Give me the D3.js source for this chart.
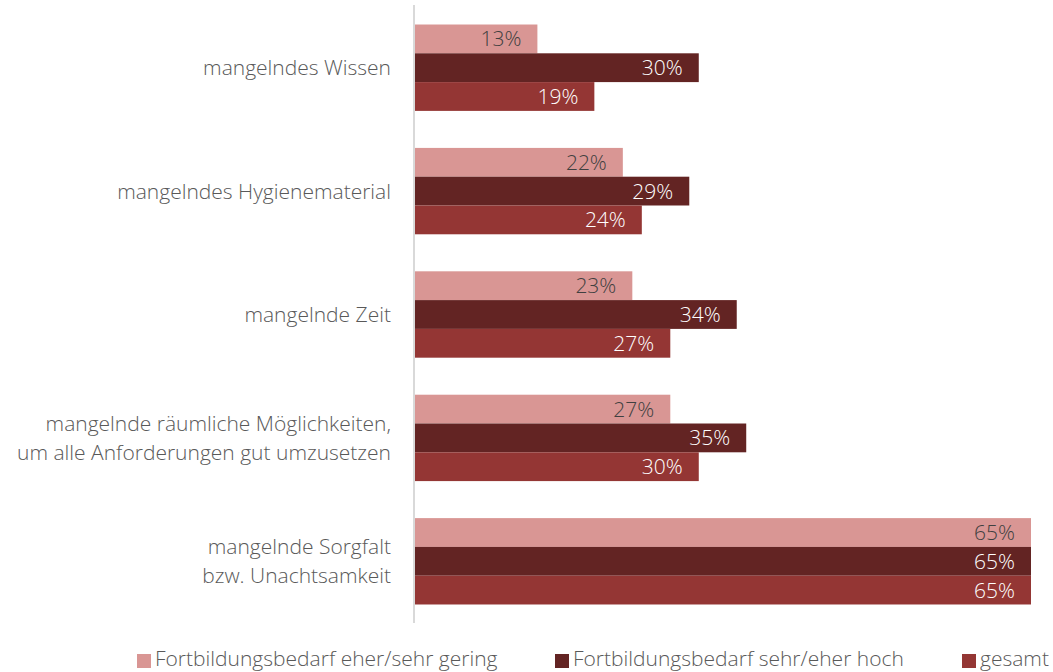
<!DOCTYPE html>
<html>
<head>
<meta charset="utf-8">
<script src="https://cdn.jsdelivr.net/npm/d3@7"></script>
<style>
  body { margin: 0; background: #fff; }
  svg text { font-family: "Open Sans", Lato, sans-serif; font-weight: 300; }
</style>
</head>
<body>
<div id="chart"></div>
<script>
// Data
const categories = [
  ["mangelndes Wissen"],
  ["mangelndes Hygienematerial"],
  ["mangelnde Zeit"],
  ["mangelnde räumliche Möglichkeiten,", "um alle Anforderungen gut umzusetzen"],
  ["mangelnde Sorgfalt", "bzw. Unachtsamkeit"]
];
const seriesNames = [
  "Fortbildungsbedarf eher/sehr gering",
  "Fortbildungsbedarf sehr/eher hoch",
  "gesamt"
];
const gering = [13, 22, 23, 27, 65];
const hoch   = [30, 29, 34, 35, 65];
const gesamt = [19, 24, 27, 30, 65];

const colors     = ["#d99694", "#632423", "#943634"];
const textColors = ["#404040", "#ffffff", "#ffffff"];

const W = 1053, H = 672;
const x0 = 414, x65 = 1031;
const yTop = 6, yBottom = 623;
const fontSize = 21;

const svg = d3.select("#chart").append("svg")
  .attr("width", W).attr("height", H);

const x = d3.scaleLinear().domain([0, 65]).range([x0, x65]);
const y = d3.scaleBand()
  .domain(d3.range(categories.length))
  .range([yTop, yBottom])
  .paddingInner(0.3)
  .paddingOuter(0.15);
const inner = d3.scaleBand()
  .domain(d3.range(seriesNames.length))
  .range([0, y.bandwidth()]);

const values = [gering, hoch, gesamt];

// Bars
const groups = svg.selectAll("g.group")
  .data(categories)
  .enter().append("g")
    .attr("class", "group")
    .attr("transform", (d, i) => `translate(0,${y(i)})`);

groups.each(function(cat, ci) {
  const g = d3.select(this);
  seriesNames.forEach((s, si) => {
    const v = values[si][ci];
    g.append("rect")
      .attr("x", x(0))
      .attr("y", inner(si))
      .attr("width", x(v) - x(0))
      .attr("height", inner.bandwidth())
      .attr("fill", colors[si]);
    const lx = Math.min(x(v) - 16, x65 - 2);
    g.append("text")
      .attr("x", lx)
      .attr("y", inner(si) + inner.bandwidth() / 2)
      .attr("dy", "0.36em")
      .attr("text-anchor", "end")
      .attr("font-size", fontSize)
      .attr("fill", textColors[si])
      .text(v + "%");
  });

  // Category label
  const lines = cat;
  const cy = y.bandwidth() / 2;
  const lh = 29;
  lines.forEach((line, li) => {
    g.append("text")
      .attr("x", x0 - 23)
      .attr("y", cy + (li - (lines.length - 1) / 2) * lh)
      .attr("dy", "0.36em")
      .attr("text-anchor", "end")
      .attr("font-size", fontSize)
      .attr("fill", "#595959")
      .text(line);
  });
});

// Vertical axis line
svg.append("line")
  .attr("x1", x0).attr("x2", x0)
  .attr("y1", yTop - 1).attr("y2", yBottom)
  .attr("stroke", "#d9d9d9")
  .attr("stroke-width", 2);

// Legend
const legendX = [137, 555, 962];
const legend = svg.append("g");
seriesNames.forEach((s, i) => {
  legend.append("rect")
    .attr("x", legendX[i]).attr("y", 654)
    .attr("width", 14).attr("height", 14)
    .attr("fill", colors[i]);
  legend.append("text")
    .attr("x", legendX[i] + 18).attr("y", 666)
    .attr("font-size", fontSize)
    .attr("fill", "#595959")
    .text(s);
});
</script>
</body>
</html>
